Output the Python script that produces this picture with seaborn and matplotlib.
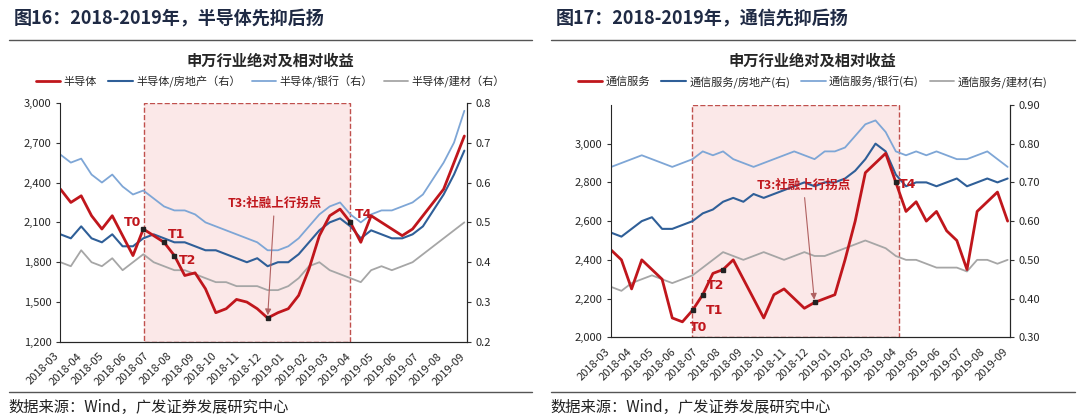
import pandas as pd
import numpy as np
import matplotlib
matplotlib.use("Agg")
import matplotlib.pyplot as plt
import matplotlib.dates as mdates
import seaborn as sns

sns.set_style("white")
plt.rcParams['font.family'] = ['Noto Sans CJK SC', 'DejaVu Sans']

dates = pd.date_range("2018-03-01", periods=40, freq="14D")

# left panel: 半导体 (left axis), ratios (right axis)
semi = [2350, 2250, 2300, 2150, 2050, 2150, 2000, 1850, 2050, 2000, 1950, 1850, 1700, 1720,
        1600, 1420, 1450, 1520, 1500, 1450, 1380, 1420, 1450, 1550, 1750, 2000, 2150, 2200,
        2100, 1950, 2150, 2100, 2050, 2000, 2050, 2150, 2250, 2350, 2550, 2750]
semi_re = [0.47, 0.46, 0.49, 0.46, 0.45, 0.47, 0.44, 0.44, 0.46, 0.47, 0.46, 0.45, 0.45, 0.44,
           0.43, 0.43, 0.42, 0.41, 0.40, 0.41, 0.39, 0.40, 0.40, 0.42, 0.45, 0.48, 0.50, 0.51,
           0.49, 0.46, 0.48, 0.47, 0.46, 0.46, 0.47, 0.49, 0.53, 0.57, 0.62, 0.68]
semi_bank = [0.67, 0.65, 0.66, 0.62, 0.60, 0.62, 0.59, 0.57, 0.58, 0.56, 0.54, 0.53, 0.53, 0.52,
             0.50, 0.49, 0.48, 0.47, 0.46, 0.45, 0.43, 0.43, 0.44, 0.46, 0.49, 0.52, 0.54, 0.55,
             0.52, 0.50, 0.52, 0.53, 0.53, 0.54, 0.55, 0.57, 0.61, 0.65, 0.70, 0.78]
semi_build = [0.40, 0.39, 0.43, 0.40, 0.39, 0.41, 0.38, 0.40, 0.42, 0.40, 0.39, 0.38, 0.38, 0.37,
              0.36, 0.35, 0.35, 0.34, 0.34, 0.34, 0.33, 0.33, 0.34, 0.36, 0.39, 0.40, 0.38, 0.37,
              0.36, 0.35, 0.38, 0.39, 0.38, 0.39, 0.40, 0.42, 0.44, 0.46, 0.48, 0.50]
semi_marks = [("T0", 8), ("T1", 10), ("T2", 11), ("T3", 20), ("T4", 28)]

# right panel: 通信服务 (left axis), ratios (right axis)
tele = [2450, 2400, 2250, 2400, 2350, 2300, 2100, 2080, 2140, 2220, 2330, 2350, 2400, 2300,
        2200, 2100, 2220, 2250, 2200, 2150, 2180, 2200, 2220, 2400, 2600, 2850, 2900, 2950,
        2800, 2650, 2700, 2600, 2650, 2550, 2500, 2350, 2650, 2700, 2750, 2600]
tele_re = [0.57, 0.56, 0.58, 0.60, 0.61, 0.58, 0.58, 0.59, 0.60, 0.62, 0.63, 0.65, 0.66, 0.65,
           0.67, 0.66, 0.67, 0.68, 0.69, 0.70, 0.69, 0.70, 0.70, 0.71, 0.73, 0.76, 0.80, 0.78,
           0.72, 0.69, 0.70, 0.70, 0.69, 0.70, 0.71, 0.69, 0.70, 0.71, 0.70, 0.71]
tele_bank = [0.74, 0.75, 0.76, 0.77, 0.76, 0.75, 0.74, 0.75, 0.76, 0.78, 0.77, 0.78, 0.76, 0.75,
             0.74, 0.75, 0.76, 0.77, 0.78, 0.77, 0.76, 0.78, 0.78, 0.79, 0.82, 0.85, 0.86, 0.83,
             0.78, 0.77, 0.78, 0.77, 0.78, 0.77, 0.76, 0.76, 0.77, 0.78, 0.76, 0.74]
tele_build = [0.43, 0.42, 0.44, 0.45, 0.46, 0.45, 0.44, 0.45, 0.46, 0.48, 0.50, 0.52, 0.51, 0.50,
              0.51, 0.52, 0.51, 0.50, 0.51, 0.52, 0.51, 0.51, 0.52, 0.53, 0.54, 0.55, 0.54, 0.53,
              0.51, 0.50, 0.50, 0.49, 0.48, 0.48, 0.48, 0.47, 0.50, 0.50, 0.49, 0.50]
tele_marks = [("T0", 8), ("T1", 9), ("T2", 11), ("T3", 20), ("T4", 28)]

RED, DBLUE, LBLUE, GRAY = "#c0161c", "#2f5f98", "#7ea6d6", "#a6a6a6"
SHADE_FC, SHADE_EC = "#fbe8e8", "#c0504d"

fig = plt.figure(figsize=(10.8, 4.18), dpi=100)

def panel(rect, main, re, bank, build, names, lylim, lticks, ryl, rticks, rfmt, span, marks, offs):
    ax = fig.add_axes(rect)
    ax2 = ax.twinx()
    ax2.axvspan(pd.Timestamp(span[0]), pd.Timestamp(span[1]), facecolor=SHADE_FC,
                edgecolor=SHADE_EC, ls="--", lw=1.0, zorder=0)
    sns.lineplot(x=dates, y=build, ax=ax2, color=GRAY, lw=1.3)
    sns.lineplot(x=dates, y=bank, ax=ax2, color=LBLUE, lw=1.3)
    sns.lineplot(x=dates, y=re, ax=ax2, color=DBLUE, lw=1.5)
    ax.set_zorder(ax2.get_zorder() + 1)
    ax.patch.set_visible(False)
    sns.lineplot(x=dates, y=main, ax=ax, color=RED, lw=2.0)
    ax.set_ylim(*lylim); ax.set_yticks(lticks)
    ax.set_yticklabels([f"{v:,}" for v in lticks])
    ax2.set_ylim(*ryl); ax2.set_yticks(rticks)
    ax2.set_yticklabels([rfmt.format(v) for v in rticks])
    ax.set_xlim(pd.Timestamp("2018-03-01"), pd.Timestamp("2019-09-01"))
    ax.xaxis.set_major_locator(mdates.MonthLocator())
    ax.xaxis.set_major_formatter(mdates.DateFormatter("%Y-%m"))
    for a in (ax, ax2):
        a.tick_params(labelsize=8, length=3, direction="out", color="#333")
        a.spines["top"].set_visible(False)
        a.set_xlabel(""); a.set_ylabel("")
    ax2.spines["left"].set_visible(False)
    plt.setp(ax.get_xticklabels(), rotation=45, ha="right", fontsize=8)
    for (lbl, i), (dx, dy) in zip(marks, offs):
        ax.plot(dates[i], main[i], "s", color="#222", ms=3.5, zorder=5)
        if lbl != "T3":
            ax.annotate(lbl, (dates[i], main[i]), xytext=(dx, dy), textcoords="offset points",
                        color=RED, fontsize=9, fontweight="bold", family=["DejaVu Sans"])
        else:
            ax.annotate("T3:社融上行拐点", xy=(dates[i], main[i]), xytext=(dx, dy),
                        textcoords="offset points", color=RED, fontsize=9, fontweight="bold",
                        ha="center", arrowprops=dict(arrowstyle="-|>", color="#b06060", lw=0.8))
    return [(names[0], RED, 2.0), (names[1], DBLUE, 1.5), (names[2], LBLUE, 1.3), (names[3], GRAY, 1.3)]

lleg = panel([0.056, 0.182, 0.376, 0.572], semi, semi_re, semi_bank, semi_build,
             ["半导体", "半导体/房地产（右）", "半导体/银行（右）", "半导体/建材（右）"],
             (1200, 3000), [1200, 1500, 1800, 2100, 2400, 2700, 3000],
             (0.2, 0.8), [0.2, 0.3, 0.4, 0.5, 0.6, 0.7, 0.8], "{:.1f}",
             ("2018-06-22", "2019-03-28"), semi_marks,
             [(-14, 2), (3, 3), (3, -6), (5, 80), (3, 3)])
rleg = panel([0.566, 0.193, 0.369, 0.556], tele, tele_re, tele_bank, tele_build,
             ["通信服务", "通信服务/房地产(右)", "通信服务/银行(右)", "通信服务/建材(右)"],
             (2000, 3200), [2000, 2200, 2400, 2600, 2800, 3000],
             (0.3, 0.9), [0.3, 0.4, 0.5, 0.6, 0.7, 0.8, 0.9], "{:.2f}",
             ("2018-06-20", "2019-04-01"), tele_marks,
             [(-2, -15), (2, -14), (-12, -14), (-8, 82), (2, -4)])

for x0, title, leg, x1 in [(0.008, "图16：2018-2019年，半导体先抑后扬", lleg, 0.493),
                           (0.51, "图17：2018-2019年，通信先抑后扬", rleg, 0.995)]:
    fig.text(x0 + 0.005, 0.955, title, fontsize=13, fontweight="bold", color="#1f2a44", va="center")
    fig.add_artist(plt.Line2D([x0, x1], [0.905, 0.905], color="#555", lw=1))
    fig.add_artist(plt.Line2D([x0, x1], [0.062, 0.062], color="#555", lw=1))
    fig.text(x0, 0.025, "数据来源：Wind，广发证券发展研究中心", fontsize=11, color="#222", va="center")
    cx = (x0 + x1) / 2
    fig.text(cx, 0.855, "申万行业绝对及相对收益", fontsize=11, fontweight="bold", ha="center", va="center")
    handles = [plt.Line2D([], [], color=c, lw=w) for _, c, w in leg]
    fig.legend(handles, [n for n, _, _ in leg], loc="center", bbox_to_anchor=(cx, 0.805),
               ncol=4, frameon=False, fontsize=8, handlelength=2.2, columnspacing=1.0,
               handletextpad=0.3)

fig.savefig("out.png", dpi=100)
